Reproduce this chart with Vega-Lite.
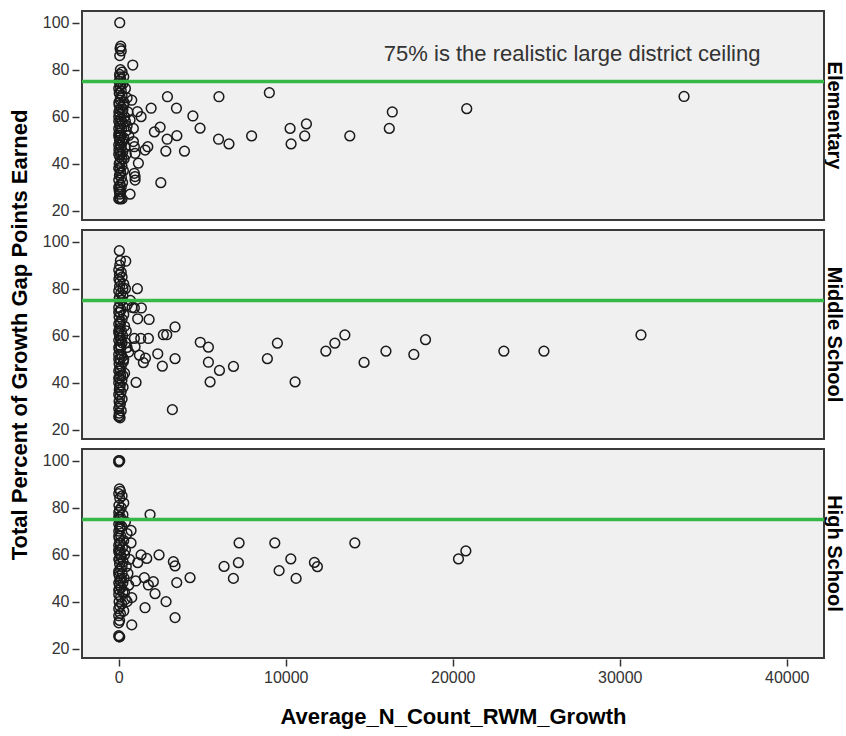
{
  "$schema": "https://vega.github.io/schema/vega-lite/v6.json",
  "padding": {"left": 8, "top": 10, "right": 0, "bottom": 4},
  "background": "white",
  "datasets": {
    "pts": [
      {"level":"Elementary","growth":840,"pct":82},{"level":"Elementary","growth":780,"pct":67},{"level":"Elementary","growth":2916,"pct":68.5},{"level":"Elementary","growth":1940,"pct":63.6},{"level":"Elementary","growth":3456,"pct":63.6},{"level":"Elementary","growth":1116,"pct":62.1},{"level":"Elementary","growth":1338,"pct":60},{"level":"Elementary","growth":4440,"pct":60.3},{"level":"Elementary","growth":4870,"pct":55.1},{"level":"Elementary","growth":2478,"pct":55.5},{"level":"Elementary","growth":2136,"pct":53.5},{"level":"Elementary","growth":3480,"pct":51.9},{"level":"Elementary","growth":2898,"pct":50.4},{"level":"Elementary","growth":2820,"pct":45.3},{"level":"Elementary","growth":3936,"pct":45.3},{"level":"Elementary","growth":1740,"pct":47.2},{"level":"Elementary","growth":1578,"pct":45.8},{"level":"Elementary","growth":1176,"pct":40.2},{"level":"Elementary","growth":978,"pct":34.5},{"level":"Elementary","growth":978,"pct":33},{"level":"Elementary","growth":2520,"pct":31.9},{"level":"Elementary","growth":678,"pct":27},{"level":"Elementary","growth":876,"pct":49.4},{"level":"Elementary","growth":876,"pct":55},{"level":"Elementary","growth":978,"pct":44.4},{"level":"Elementary","growth":678,"pct":58.6},{"level":"Elementary","growth":935,"pct":47.2},{"level":"Elementary","growth":935,"pct":35.9},
      {"level":"Elementary","growth":6000,"pct":68.5},{"level":"Elementary","growth":9018,"pct":70.2},{"level":"Elementary","growth":5976,"pct":50.4},{"level":"Elementary","growth":6600,"pct":48.4},{"level":"Elementary","growth":7956,"pct":51.8},{"level":"Elementary","growth":10260,"pct":55},{"level":"Elementary","growth":10320,"pct":48.4},{"level":"Elementary","growth":11238,"pct":56.9},{"level":"Elementary","growth":11136,"pct":51.8},{"level":"Elementary","growth":13836,"pct":51.8},{"level":"Elementary","growth":16380,"pct":62},{"level":"Elementary","growth":16200,"pct":55},{"level":"Elementary","growth":20838,"pct":63.4},{"level":"Elementary","growth":33850,"pct":68.6},
      {"level":"Elementary","growth":60,"pct":100},{"level":"Elementary","growth":120,"pct":90},{"level":"Elementary","growth":80,"pct":89},{"level":"Elementary","growth":150,"pct":88},{"level":"Elementary","growth":60,"pct":86},
      {"level":"Elementary","growth":100,"pct":80},{"level":"Elementary","growth":200,"pct":79},{"level":"Elementary","growth":50,"pct":78},{"level":"Elementary","growth":300,"pct":77},{"level":"Elementary","growth":120,"pct":76},{"level":"Elementary","growth":20,"pct":75},{"level":"Elementary","growth":250,"pct":74},{"level":"Elementary","growth":80,"pct":73},{"level":"Elementary","growth":400,"pct":72},{"level":"Elementary","growth":150,"pct":71},{"level":"Elementary","growth":30,"pct":70},{"level":"Elementary","growth":200,"pct":69},{"level":"Elementary","growth":500,"pct":68},{"level":"Elementary","growth":90,"pct":67},{"level":"Elementary","growth":10,"pct":66},{"level":"Elementary","growth":300,"pct":65},{"level":"Elementary","growth":160,"pct":64},{"level":"Elementary","growth":60,"pct":63},{"level":"Elementary","growth":220,"pct":62},{"level":"Elementary","growth":40,"pct":61},{"level":"Elementary","growth":350,"pct":60},{"level":"Elementary","growth":110,"pct":59},{"level":"Elementary","growth":0,"pct":58},{"level":"Elementary","growth":270,"pct":57},{"level":"Elementary","growth":70,"pct":56},{"level":"Elementary","growth":180,"pct":55},{"level":"Elementary","growth":450,"pct":54},{"level":"Elementary","growth":20,"pct":53},{"level":"Elementary","growth":130,"pct":52},{"level":"Elementary","growth":300,"pct":51},{"level":"Elementary","growth":50,"pct":50},{"level":"Elementary","growth":200,"pct":49},{"level":"Elementary","growth":90,"pct":48},{"level":"Elementary","growth":380,"pct":47},{"level":"Elementary","growth":10,"pct":46},{"level":"Elementary","growth":240,"pct":45},{"level":"Elementary","growth":140,"pct":44},{"level":"Elementary","growth":60,"pct":43},{"level":"Elementary","growth":320,"pct":42},{"level":"Elementary","growth":100,"pct":41},{"level":"Elementary","growth":30,"pct":40},{"level":"Elementary","growth":190,"pct":39},{"level":"Elementary","growth":70,"pct":38},{"level":"Elementary","growth":280,"pct":37},{"level":"Elementary","growth":120,"pct":36},{"level":"Elementary","growth":40,"pct":35},{"level":"Elementary","growth":160,"pct":34},{"level":"Elementary","growth":0,"pct":33},{"level":"Elementary","growth":230,"pct":32},{"level":"Elementary","growth":80,"pct":31},{"level":"Elementary","growth":150,"pct":30},{"level":"Elementary","growth":20,"pct":29},{"level":"Elementary","growth":110,"pct":28},{"level":"Elementary","growth":60,"pct":27},{"level":"Elementary","growth":0,"pct":25},{"level":"Elementary","growth":100,"pct":25},{"level":"Elementary","growth":200,"pct":25},{"level":"Elementary","growth":50,"pct":25.5},
      {"level":"Elementary","growth":0,"pct":72},{"level":"Elementary","growth":50,"pct":70},{"level":"Elementary","growth":100,"pct":68},{"level":"Elementary","growth":20,"pct":65},{"level":"Elementary","growth":250,"pct":63},{"level":"Elementary","growth":0,"pct":60},{"level":"Elementary","growth":180,"pct":58},{"level":"Elementary","growth":60,"pct":57},{"level":"Elementary","growth":500,"pct":56},{"level":"Elementary","growth":0,"pct":55},{"level":"Elementary","growth":100,"pct":53},{"level":"Elementary","growth":30,"pct":51},{"level":"Elementary","growth":250,"pct":50},{"level":"Elementary","growth":0,"pct":48},{"level":"Elementary","growth":150,"pct":47},{"level":"Elementary","growth":70,"pct":45},{"level":"Elementary","growth":0,"pct":44},{"level":"Elementary","growth":200,"pct":42},{"level":"Elementary","growth":40,"pct":40},{"level":"Elementary","growth":0,"pct":38},{"level":"Elementary","growth":100,"pct":36},{"level":"Elementary","growth":0,"pct":30},{"level":"Elementary","growth":40,"pct":28},{"level":"Elementary","growth":10,"pct":62},{"level":"Elementary","growth":320,"pct":66},{"level":"Elementary","growth":600,"pct":52},{"level":"Elementary","growth":550,"pct":62},{"level":"Elementary","growth":450,"pct":44},{"level":"Elementary","growth":400,"pct":58},{"level":"Elementary","growth":0,"pct":52},{"level":"Elementary","growth":130,"pct":74},{"level":"Elementary","growth":70,"pct":77},

      {"level":"Middle School","growth":4880,"pct":57.2},{"level":"Middle School","growth":5370,"pct":55.1},{"level":"Middle School","growth":5370,"pct":48.7},{"level":"Middle School","growth":6030,"pct":45.2},{"level":"Middle School","growth":5470,"pct":40.3},{"level":"Middle School","growth":6870,"pct":46.9},{"level":"Middle School","growth":8900,"pct":50.2},{"level":"Middle School","growth":9500,"pct":56.8},{"level":"Middle School","growth":10560,"pct":40.3},{"level":"Middle School","growth":12400,"pct":53.4},{"level":"Middle School","growth":12940,"pct":56.8},{"level":"Middle School","growth":13540,"pct":60.3},{"level":"Middle School","growth":14690,"pct":48.6},{"level":"Middle School","growth":16000,"pct":53.4},{"level":"Middle School","growth":17670,"pct":52},{"level":"Middle School","growth":18370,"pct":58.3},{"level":"Middle School","growth":23060,"pct":53.4},{"level":"Middle School","growth":25460,"pct":53.4},{"level":"Middle School","growth":31270,"pct":60.3},
      {"level":"Middle School","growth":1116,"pct":80},{"level":"Middle School","growth":1356,"pct":71.8},{"level":"Middle School","growth":936,"pct":71.8},{"level":"Middle School","growth":1134,"pct":67.2},{"level":"Middle School","growth":1818,"pct":66.9},{"level":"Middle School","growth":3372,"pct":63.7},{"level":"Middle School","growth":2672,"pct":60.4},{"level":"Middle School","growth":2875,"pct":60.4},{"level":"Middle School","growth":1776,"pct":58.8},{"level":"Middle School","growth":1318,"pct":58.8},{"level":"Middle School","growth":936,"pct":58.8},{"level":"Middle School","growth":978,"pct":55.3},{"level":"Middle School","growth":2336,"pct":52.3},{"level":"Middle School","growth":3372,"pct":50.2},{"level":"Middle School","growth":2612,"pct":47},{"level":"Middle School","growth":1476,"pct":48.5},{"level":"Middle School","growth":1600,"pct":50.4},{"level":"Middle School","growth":1236,"pct":51.7},{"level":"Middle School","growth":1038,"pct":40.1},{"level":"Middle School","growth":3211,"pct":28.5},{"level":"Middle School","growth":420,"pct":91.7},{"level":"Middle School","growth":36,"pct":96.2},
      {"level":"Middle School","growth":100,"pct":92},{"level":"Middle School","growth":60,"pct":90},{"level":"Middle School","growth":0,"pct":88},{"level":"Middle School","growth":150,"pct":87},{"level":"Middle School","growth":40,"pct":86},{"level":"Middle School","growth":200,"pct":85},{"level":"Middle School","growth":10,"pct":84},{"level":"Middle School","growth":80,"pct":83},{"level":"Middle School","growth":300,"pct":82},{"level":"Middle School","growth":50,"pct":81},{"level":"Middle School","growth":400,"pct":80},{"level":"Middle School","growth":0,"pct":79},{"level":"Middle School","growth":120,"pct":78},{"level":"Middle School","growth":250,"pct":77},{"level":"Middle School","growth":30,"pct":76},{"level":"Middle School","growth":180,"pct":75},{"level":"Middle School","growth":70,"pct":74},{"level":"Middle School","growth":500,"pct":73},{"level":"Middle School","growth":0,"pct":72},{"level":"Middle School","growth":140,"pct":71},{"level":"Middle School","growth":60,"pct":70},{"level":"Middle School","growth":300,"pct":69},{"level":"Middle School","growth":20,"pct":68},{"level":"Middle School","growth":200,"pct":67},{"level":"Middle School","growth":90,"pct":66},{"level":"Middle School","growth":0,"pct":65},{"level":"Middle School","growth":350,"pct":64},{"level":"Middle School","growth":50,"pct":63},{"level":"Middle School","growth":160,"pct":62},{"level":"Middle School","growth":10,"pct":61},{"level":"Middle School","growth":230,"pct":60},{"level":"Middle School","growth":100,"pct":59},{"level":"Middle School","growth":0,"pct":58},{"level":"Middle School","growth":400,"pct":57},{"level":"Middle School","growth":70,"pct":56},{"level":"Middle School","growth":130,"pct":55},{"level":"Middle School","growth":30,"pct":54},{"level":"Middle School","growth":600,"pct":53},{"level":"Middle School","growth":0,"pct":52},{"level":"Middle School","growth":200,"pct":51},{"level":"Middle School","growth":80,"pct":50},{"level":"Middle School","growth":280,"pct":49},{"level":"Middle School","growth":20,"pct":48},{"level":"Middle School","growth":150,"pct":47},{"level":"Middle School","growth":60,"pct":46},{"level":"Middle School","growth":0,"pct":45},{"level":"Middle School","growth":350,"pct":44},{"level":"Middle School","growth":110,"pct":43},{"level":"Middle School","growth":40,"pct":42},{"level":"Middle School","growth":190,"pct":41},{"level":"Middle School","growth":0,"pct":40},{"level":"Middle School","growth":90,"pct":39},{"level":"Middle School","growth":260,"pct":38},{"level":"Middle School","growth":30,"pct":37},{"level":"Middle School","growth":140,"pct":36},{"level":"Middle School","growth":0,"pct":35},{"level":"Middle School","growth":70,"pct":34},{"level":"Middle School","growth":200,"pct":33},{"level":"Middle School","growth":20,"pct":32},{"level":"Middle School","growth":100,"pct":31},{"level":"Middle School","growth":50,"pct":30},{"level":"Middle School","growth":0,"pct":29},{"level":"Middle School","growth":150,"pct":28},{"level":"Middle School","growth":30,"pct":27},{"level":"Middle School","growth":0,"pct":25.5},{"level":"Middle School","growth":80,"pct":25},{"level":"Middle School","growth":40,"pct":26},
      {"level":"Middle School","growth":0,"pct":70},{"level":"Middle School","growth":100,"pct":65},{"level":"Middle School","growth":50,"pct":60},{"level":"Middle School","growth":200,"pct":57},{"level":"Middle School","growth":0,"pct":55},{"level":"Middle School","growth":150,"pct":52},{"level":"Middle School","growth":300,"pct":50},{"level":"Middle School","growth":0,"pct":50},{"level":"Middle School","growth":100,"pct":45},{"level":"Middle School","growth":250,"pct":43},{"level":"Middle School","growth":0,"pct":42},{"level":"Middle School","growth":60,"pct":38},{"level":"Middle School","growth":500,"pct":55},{"level":"Middle School","growth":450,"pct":62},{"level":"Middle School","growth":700,"pct":75},{"level":"Middle School","growth":800,"pct":72},{"level":"Middle School","growth":0,"pct":62},{"level":"Middle School","growth":120,"pct":58},{"level":"Middle School","growth":40,"pct":76},{"level":"Middle School","growth":250,"pct":80},

      {"level":"High School","growth":1875,"pct":77.1},{"level":"High School","growth":737,"pct":70.3},{"level":"High School","growth":737,"pct":65},{"level":"High School","growth":2414,"pct":59.9},{"level":"High School","growth":1336,"pct":59.9},{"level":"High School","growth":1677,"pct":58.4},{"level":"High School","growth":3270,"pct":57},{"level":"High School","growth":3372,"pct":55.2},{"level":"High School","growth":4270,"pct":50.2},{"level":"High School","growth":3474,"pct":48.1},{"level":"High School","growth":2073,"pct":48.5},{"level":"High School","growth":1773,"pct":47.1},{"level":"High School","growth":2174,"pct":43.4},{"level":"High School","growth":1533,"pct":50.2},{"level":"High School","growth":2833,"pct":40},{"level":"High School","growth":1575,"pct":37.4},{"level":"High School","growth":3372,"pct":33.2},{"level":"High School","growth":779,"pct":30.1},{"level":"High School","growth":1138,"pct":56.6},{"level":"High School","growth":1018,"pct":48.8},{"level":"High School","growth":779,"pct":41.7},
      {"level":"High School","growth":7206,"pct":65},{"level":"High School","growth":9344,"pct":65},{"level":"High School","growth":14136,"pct":65},{"level":"High School","growth":6307,"pct":55},{"level":"High School","growth":7164,"pct":56.6},{"level":"High School","growth":6865,"pct":49.9},{"level":"High School","growth":9602,"pct":53.2},{"level":"High School","growth":10303,"pct":58.2},{"level":"High School","growth":10620,"pct":49.9},{"level":"High School","growth":11716,"pct":56.7},{"level":"High School","growth":11896,"pct":54.9},{"level":"High School","growth":20343,"pct":58.2},{"level":"High School","growth":20785,"pct":61.6},
      {"level":"High School","growth":0,"pct":100},{"level":"High School","growth":60,"pct":100},{"level":"High School","growth":0,"pct":99.5},{"level":"High School","growth":40,"pct":88},{"level":"High School","growth":100,"pct":87},{"level":"High School","growth":0,"pct":86},{"level":"High School","growth":200,"pct":85},{"level":"High School","growth":60,"pct":84},{"level":"High School","growth":300,"pct":82},{"level":"High School","growth":10,"pct":81},{"level":"High School","growth":150,"pct":80},{"level":"High School","growth":50,"pct":79},{"level":"High School","growth":0,"pct":78},{"level":"High School","growth":250,"pct":77},{"level":"High School","growth":100,"pct":76},{"level":"High School","growth":30,"pct":75},{"level":"High School","growth":400,"pct":74},{"level":"High School","growth":0,"pct":73},{"level":"High School","growth":180,"pct":72},{"level":"High School","growth":70,"pct":71},{"level":"High School","growth":0,"pct":70},{"level":"High School","growth":500,"pct":69},{"level":"High School","growth":120,"pct":68},{"level":"High School","growth":20,"pct":67},{"level":"High School","growth":300,"pct":66},{"level":"High School","growth":60,"pct":65},{"level":"High School","growth":0,"pct":64},{"level":"High School","growth":220,"pct":63},{"level":"High School","growth":90,"pct":62},{"level":"High School","growth":10,"pct":61},{"level":"High School","growth":350,"pct":60},{"level":"High School","growth":140,"pct":59},{"level":"High School","growth":0,"pct":58},{"level":"High School","growth":260,"pct":57},{"level":"High School","growth":50,"pct":56},{"level":"High School","growth":450,"pct":55},{"level":"High School","growth":100,"pct":54},{"level":"High School","growth":0,"pct":53},{"level":"High School","growth":200,"pct":52},{"level":"High School","growth":30,"pct":51},{"level":"High School","growth":320,"pct":50},{"level":"High School","growth":80,"pct":49},{"level":"High School","growth":0,"pct":48},{"level":"High School","growth":600,"pct":47},{"level":"High School","growth":150,"pct":46},{"level":"High School","growth":40,"pct":45},{"level":"High School","growth":250,"pct":44},{"level":"High School","growth":0,"pct":43},{"level":"High School","growth":110,"pct":42},{"level":"High School","growth":400,"pct":41},{"level":"High School","growth":20,"pct":40},{"level":"High School","growth":180,"pct":39},{"level":"High School","growth":60,"pct":38},{"level":"High School","growth":0,"pct":37},{"level":"High School","growth":300,"pct":36},{"level":"High School","growth":100,"pct":35},{"level":"High School","growth":0,"pct":34},{"level":"High School","growth":50,"pct":32},{"level":"High School","growth":0,"pct":31},{"level":"High School","growth":20,"pct":25},{"level":"High School","growth":60,"pct":25},{"level":"High School","growth":0,"pct":25.5},
      {"level":"High School","growth":0,"pct":62},{"level":"High School","growth":100,"pct":60},{"level":"High School","growth":50,"pct":58},{"level":"High School","growth":200,"pct":55},{"level":"High School","growth":0,"pct":52},{"level":"High School","growth":150,"pct":50},{"level":"High School","growth":50,"pct":47},{"level":"High School","growth":0,"pct":45},{"level":"High School","growth":250,"pct":48},{"level":"High School","growth":100,"pct":65},{"level":"High School","growth":0,"pct":68},{"level":"High School","growth":400,"pct":62},{"level":"High School","growth":550,"pct":52},{"level":"High School","growth":350,"pct":44},{"level":"High School","growth":650,"pct":58},{"level":"High School","growth":80,"pct":72},{"level":"High School","growth":0,"pct":76},{"level":"High School","growth":500,"pct":40}
    ]
  },
  "data": {"name": "pts"},
  "facet": {
    "row": {
      "field": "level",
      "type": "nominal",
      "sort": ["Elementary", "Middle School", "High School"],
      "title": "Total Percent of Growth Gap Points Earned",
      "header": {
        "labelAngle": 90,
        "labelOrient": "right",
        "labelFont": "Liberation Sans",
        "labelFontSize": 20,
        "labelFontWeight": "bold",
        "labelColor": "#000",
        "labelPadding": -3,
        "titleOrient": "left",
        "titleFont": "Liberation Sans",
        "titleFontSize": 22,
        "titleFontWeight": "bold",
        "titleColor": "#000",
        "titlePadding": 0
      }
    }
  },
  "spacing": {"row": 8},
  "spec": {
    "width": 742,
    "height": 209,
    "layer": [
      {
        "mark": {"type": "point", "shape": "circle", "filled": false, "stroke": "#1a1a1a", "strokeWidth": 1.5, "size": 95, "opacity": 1},
        "encoding": {
          "x": {
            "field": "growth", "type": "quantitative",
            "scale": {"domain": [-2200, 42230], "nice": false, "zero": false},
            "axis": {"values": [0, 10000, 20000, 30000, 40000], "format": "d", "title": "Average_N_Count_RWM_Growth", "titlePadding": 21}
          },
          "y": {
            "field": "pct", "type": "quantitative",
            "scale": {"domain": [16, 105], "nice": false, "zero": false},
            "axis": {"values": [20, 40, 60, 80, 100], "title": null}
          }
        }
      },
      {
        "transform": [{"aggregate": [{"op": "count", "as": "n"}]}],
        "mark": {"type": "rule", "color": "#35b846", "strokeWidth": 3.5},
        "encoding": {"y": {"datum": 75}}
      },
      {
        "transform": [{"filter": "datum.level === 'Elementary'"}, {"aggregate": [{"op": "count", "as": "n"}]}],
        "mark": {"type": "text", "font": "Liberation Sans", "fontSize": 22, "color": "#333", "align": "center", "baseline": "middle"},
        "encoding": {
          "x": {"datum": 27150},
          "y": {"datum": 86.7},
          "text": {"value": "75% is the realistic large district ceiling"}
        }
      }
    ]
  },
  "config": {
    "view": {"stroke": "#3a3a3a", "strokeWidth": 2, "fill": "#f0f0f0"},
    "axis": {
      "grid": false,
      "domain": false,
      "labelFont": "Liberation Sans",
      "labelFontSize": 16,
      "labelColor": "#333",
      "tickColor": "#333",
      "tickSize": 7,
      "tickWidth": 1.5,
      "labelPadding": 3,
      "titleFont": "Liberation Sans",
      "titleFontSize": 22,
      "titleFontWeight": "bold",
      "titleColor": "#000"
    }
  }
}
